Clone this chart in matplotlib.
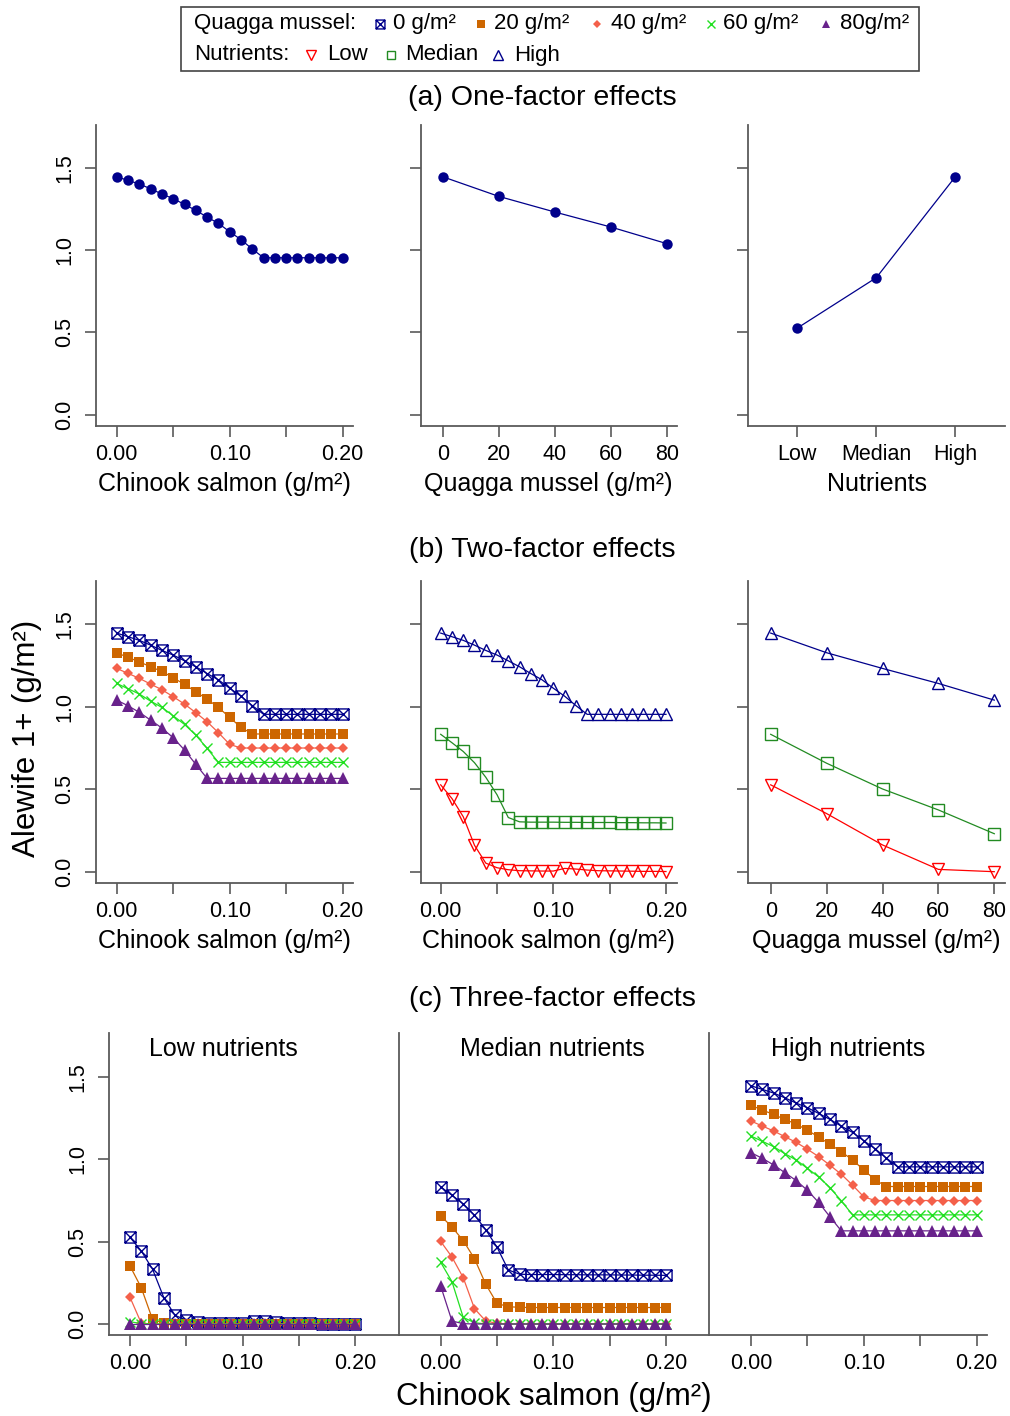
import numpy as np
import matplotlib
matplotlib.use("Agg")
import matplotlib.pyplot as plt
from matplotlib.path import Path
from matplotlib.patches import Rectangle

plt.rcParams["font.family"] = ["Liberation Sans", "DejaVu Sans"]

# ---- data ----
salmon = [0.00, 0.01, 0.02, 0.03, 0.04, 0.05, 0.06, 0.07, 0.08, 0.09, 0.10,
          0.11, 0.12, 0.13, 0.14, 0.15, 0.16, 0.17, 0.18, 0.19, 0.20]
quagga = [0, 20, 40, 60, 80]
nutrient_levels = ["Low", "Median", "High"]

# high nutrients, by quagga mussel density
high_q0 = [1.445, 1.423, 1.401, 1.372, 1.340, 1.312, 1.277, 1.241, 1.200, 1.162, 1.111,
           1.063, 1.006, 0.953, 0.953, 0.953, 0.953, 0.953, 0.953, 0.953, 0.953]
high_q20 = [1.326, 1.298, 1.271, 1.241, 1.213, 1.175, 1.134, 1.090, 1.045, 0.995, 0.934,
            0.874, 0.834, 0.834, 0.834, 0.834, 0.834, 0.834, 0.834, 0.834, 0.834]
high_q40 = [1.231, 1.201, 1.171, 1.136, 1.102, 1.060, 1.015, 0.963, 0.908, 0.842, 0.771,
            0.749, 0.749, 0.749, 0.749, 0.749, 0.749, 0.749, 0.749, 0.749, 0.749]
high_q60 = [1.140, 1.108, 1.076, 1.033, 0.995, 0.944, 0.892, 0.827, 0.747, 0.662, 0.662,
            0.662, 0.662, 0.662, 0.662, 0.662, 0.662, 0.662, 0.662, 0.662, 0.662]
high_q80 = [1.039, 1.005, 0.965, 0.918, 0.870, 0.811, 0.737, 0.650, 0.565, 0.565, 0.565,
            0.565, 0.565, 0.565, 0.565, 0.565, 0.565, 0.565, 0.565, 0.565, 0.565]

# median nutrients
med_q0 = [0.832, 0.781, 0.728, 0.660, 0.572, 0.466, 0.328, 0.302, 0.300, 0.300, 0.300,
          0.299, 0.299, 0.298, 0.298, 0.298, 0.297, 0.297, 0.296, 0.296, 0.295]
med_q20 = [0.657, 0.588, 0.506, 0.396, 0.241, 0.125, 0.105, 0.101, 0.100, 0.100, 0.100,
           0.100, 0.100, 0.100, 0.100, 0.100, 0.100, 0.100, 0.100, 0.100, 0.100]
med_q40 = [0.501, 0.406, 0.281, 0.093, 0.018, 0.004, 0.0, 0.0, 0.0, 0.0, 0.0,
           0.0, 0.0, 0.0, 0.0, 0.0, 0.0, 0.0, 0.0, 0.0, 0.0]
med_q60 = [0.374, 0.257, 0.040, 0.008, 0.0, 0.0, 0.0, 0.0, 0.0, 0.0, 0.0,
           0.0, 0.0, 0.0, 0.0, 0.0, 0.0, 0.0, 0.0, 0.0, 0.0]
med_q80 = [0.230, 0.018, 0.002, 0.0, 0.0, 0.0, 0.0, 0.0, 0.0, 0.0, 0.0,
           0.0, 0.0, 0.0, 0.0, 0.0, 0.0, 0.0, 0.0, 0.0, 0.0]

# low nutrients
low_q0 = [0.526, 0.443, 0.333, 0.160, 0.052, 0.024, 0.012, 0.006, 0.005, 0.004, 0.004,
          0.020, 0.016, 0.010, 0.006, 0.005, 0.004, 0.003, 0.002, 0.002, 0.001]
low_q20 = [0.352, 0.220, 0.028, 0.005, 0.003, 0.002, 0.001, 0.0, 0.0, 0.0, 0.0,
           0.0, 0.0, 0.0, 0.0, 0.0, 0.0, 0.0, 0.0, 0.0, 0.0]
low_q40 = [0.162, 0.005, 0.0, 0.0, 0.0, 0.0, 0.0, 0.0, 0.0, 0.0, 0.0,
           0.0, 0.0, 0.0, 0.0, 0.0, 0.0, 0.0, 0.0, 0.0, 0.0]
low_q60 = [0.014, 0.002, 0.0, 0.0, 0.0, 0.0, 0.0, 0.0, 0.0, 0.0, 0.0,
           0.0, 0.0, 0.0, 0.0, 0.0, 0.0, 0.0, 0.0, 0.0, 0.0]
low_q80 = [0.0, 0.0, 0.0, 0.0, 0.0, 0.0, 0.0, 0.0, 0.0, 0.0, 0.0,
           0.0, 0.0, 0.0, 0.0, 0.0, 0.0, 0.0, 0.0, 0.0, 0.0]

# ---- styles ----
W, H = 1010, 1416
GRAY = "#5a5a5a"
NAVY = "#00008B"
BOXX = Path([(-1, -1), (1, -1), (1, 1), (-1, 1), (-1, -1), (-1, -1), (1, 1), (-1, 1), (1, -1)],
            [Path.MOVETO, Path.LINETO, Path.LINETO, Path.LINETO, Path.CLOSEPOLY,
             Path.MOVETO, Path.LINETO, Path.MOVETO, Path.LINETO])

q_styles = [
    dict(color=NAVY, marker=BOXX, ms=8, mfc="none", mew=1.0),
    dict(color="#CD6600", marker="s", ms=7, mew=0),
    dict(color="#F4604A", marker="D", ms=5, mew=0),
    dict(color="#22E022", marker="x", ms=7, mew=1.0),
    dict(color="#68228B", marker="^", ms=8, mew=0),
]
n_styles = [
    dict(color="#FF0000", marker="v", ms=9, mfc="none", mew=1.0),
    dict(color="#228B22", marker="s", ms=8, mfc="none", mew=1.0),
    dict(color=NAVY, marker="^", ms=9, mfc="none", mew=1.0),
]
dot_style = dict(color=NAVY, marker="o", ms=7.5, mew=0, lw=0.9)

fig = plt.figure(figsize=(W / 100, H / 100), dpi=100)


def px_axes(left, right, top, bottom):
    ax = fig.add_axes([left / W, 1 - bottom / H, (right - left) / W, (bottom - top) / H])
    ax.patch.set_visible(False)
    return ax


def fit_lim(lo_px, hi_px, v0, p0, v1, p1):
    s = (v1 - v0) / (p1 - p0)
    return v0 + (lo_px - p0) * s, v0 + (hi_px - p0) * s


def style(ax, yticks=True, ylabels=True):
    for s in ["top", "right"]:
        ax.spines[s].set_visible(False)
    for s in ["left", "bottom"]:
        ax.spines[s].set_color(GRAY)
        ax.spines[s].set_linewidth(1.3)
    ax.tick_params(length=8, width=1.2, color=GRAY, labelsize=15.5, pad=5)
    if yticks:
        ax.set_yticks([0.0, 0.5, 1.0, 1.5])
        ax.set_yticklabels(["0.0", "0.5", "1.0", "1.5"] if ylabels else [])
        ax.tick_params(axis="y", labelrotation=90, pad=7)
        for lab in ax.get_yticklabels():
            lab.set_va("center")
    else:
        ax.set_yticks([])


def salmon_axis(ax):
    ax.set_xticks([0.0, 0.05, 0.10, 0.15, 0.20])
    ax.set_xticklabels(["0.00", "", "0.10", "", "0.20"])


LABEL = 18
LPAD = 5

# ---- (a) one-factor effects ----
top_a, bot_a, y0_a, y15_a = 125, 425.7, 414.7, 167.7

ax = px_axes(96, 353, top_a, bot_a)
style(ax)
ax.plot(salmon, high_q0, **dot_style)
ax.set_xlim(*fit_lim(96, 353, 0, 116.7, 0.2, 342.7))
ax.set_ylim(*fit_lim(bot_a, top_a, 0, y0_a, 1.5, y15_a))
salmon_axis(ax)
ax.set_xlabel("Chinook salmon (g/m²)", fontsize=LABEL, labelpad=LPAD)

ax = px_axes(420.7, 676.7, top_a, bot_a)
style(ax, ylabels=False)
one_q = [high_q0[0], high_q20[0], high_q40[0], high_q60[0], high_q80[0]]
ax.plot(quagga, one_q, **dot_style)
ax.set_xlim(*fit_lim(420.7, 676.7, 0, 442.7, 80, 666.7))
ax.set_ylim(*fit_lim(bot_a, top_a, 0, y0_a, 1.5, y15_a))
ax.set_xticks(quagga)
ax.set_xlabel("Quagga mussel (g/m²)", fontsize=LABEL, labelpad=LPAD)

ax = px_axes(748.3, 1005, top_a, bot_a)
style(ax, ylabels=False)
one_n = [low_q0[0], med_q0[0], high_q0[0]]
ax.plot([1, 2, 3], one_n, **dot_style)
ax.set_xlim(*fit_lim(748.3, 1005, 1, 797.3, 3, 955.3))
ax.set_ylim(*fit_lim(bot_a, top_a, 0, y0_a, 1.5, y15_a))
ax.set_xticks([1, 2, 3])
ax.set_xticklabels(nutrient_levels)
ax.set_xlabel("Nutrients", fontsize=LABEL, labelpad=LPAD)

# ---- (b) two-factor effects ----
top_b, bot_b, y0_b, y15_b = 581, 882.7, 871.7, 624
high_series = [high_q0, high_q20, high_q40, high_q60, high_q80]
med_series = [med_q0, med_q20, med_q40, med_q60, med_q80]
low_series = [low_q0, low_q20, low_q40, low_q60, low_q80]

ax = px_axes(96, 353, top_b, bot_b)
style(ax)
for ys, st in zip(high_series, q_styles):
    ax.plot(salmon, ys, lw=0.9, **st)
ax.set_xlim(*fit_lim(96, 353, 0, 116.7, 0.2, 342.7))
ax.set_ylim(*fit_lim(bot_b, top_b, 0, y0_b, 1.5, y15_b))
salmon_axis(ax)
ax.set_xlabel("Chinook salmon (g/m²)", fontsize=LABEL, labelpad=LPAD)

ax = px_axes(420.7, 676.7, top_b, bot_b)
style(ax, ylabels=False)
for ys, st in zip([low_q0, med_q0, high_q0], n_styles):
    ax.plot(salmon, ys, lw=0.9, **st)
ax.set_xlim(*fit_lim(420.7, 676.7, 0, 440.7, 0.2, 666))
ax.set_ylim(*fit_lim(bot_b, top_b, 0, y0_b, 1.5, y15_b))
salmon_axis(ax)
ax.set_xlabel("Chinook salmon (g/m²)", fontsize=LABEL, labelpad=LPAD)

ax = px_axes(748.3, 1005, top_b, bot_b)
style(ax, ylabels=False)
for series, st in zip([low_series, med_series, high_series], n_styles):
    ax.plot(quagga, [s[0] for s in series], lw=0.9, **st)
ax.set_xlim(*fit_lim(748.3, 1005, 0, 770.7, 80, 994.3))
ax.set_ylim(*fit_lim(bot_b, top_b, 0, y0_b, 1.5, y15_b))
ax.set_xticks(quagga)
ax.set_xlabel("Quagga mussel (g/m²)", fontsize=LABEL, labelpad=LPAD)

# ---- (c) three-factor effects ----
top_c, bot_c, y0_c, y15_c = 1033, 1335, 1324, 1076.7
c_panels = [
    (109.3, 399.3, 130, 355.3, low_series, "Low nutrients", 223),
    (399.3, 709, 440.7, 666, med_series, "Median nutrients", 552),
    (709, 987, 751, 976.7, high_series, "High nutrients", 848),
]
for i, (l, r, p0, p1, series, name, tx) in enumerate(c_panels):
    ax = px_axes(l, r, top_c, bot_c)
    style(ax, yticks=(i == 0))
    for ys, st in zip(series, q_styles):
        ax.plot(salmon, ys, lw=0.9, **st)
    ax.set_xlim(*fit_lim(l, r, 0, p0, 0.2, p1))
    ax.set_ylim(*fit_lim(bot_c, top_c, 0, y0_c, 1.5, y15_c))
    salmon_axis(ax)
    ax.text((tx - l) / (r - l), (bot_c - 1049) / (bot_c - top_c), name,
            transform=ax.transAxes, ha="center", va="center", fontsize=18)

# ---- overlay: titles, shared labels, legend ----
ov = fig.add_axes([0, 0, 1, 1])
ov.axis("off")
ov.set_xlim(0, W)
ov.set_ylim(H, 0)

ov.text(542, 98, "(a) One-factor effects", ha="center", va="center", fontsize=20.5)
ov.text(542, 550, "(b) Two-factor effects", ha="center", va="center", fontsize=20.5)
ov.text(552, 999, "(c) Three-factor effects", ha="center", va="center", fontsize=20.5)
ov.text(27, 738, "Alewife 1+ (g/m²)", rotation=90, ha="center", va="center", fontsize=22.5)
ov.text(554, 1397, "Chinook salmon (g/m²)", ha="center", va="center", fontsize=22.5)

ov.add_patch(Rectangle((181, 7), 738, 64, fill=False, edgecolor="#444444", lw=1.2))
ov.text(194, 24, "Quagga mussel:", ha="left", va="center", fontsize=16)
q_legend = [(380, 393, "0 g/m²"), (481, 494, "20 g/m²"), (597, 611, "40 g/m²"),
            (711, 723, "60 g/m²"), (826, 840, "80g/m²")]
for (mx, tx, lab), st in zip(q_legend, q_styles):
    st2 = dict(st)
    st2["ms"] = st["ms"] * 0.8
    ov.plot([mx], [24], ls="none", **st2)
    ov.text(tx, 24, lab, ha="left", va="center", fontsize=16)
ov.text(194, 55, "Nutrients:", ha="left", va="center", fontsize=16)
n_legend = [(311, 327, "Low"), (391, 405, "Median"), (498, 514, "High")]
for (mx, tx, lab), st in zip(n_legend, n_styles):
    st2 = dict(st)
    st2["ms"] = st["ms"] * 0.8
    ov.plot([mx], [55], ls="none", **st2)
    ov.text(tx, 55, lab, ha="left", va="center", fontsize=16)

fig.savefig("out.png", dpi=100, facecolor="white")
